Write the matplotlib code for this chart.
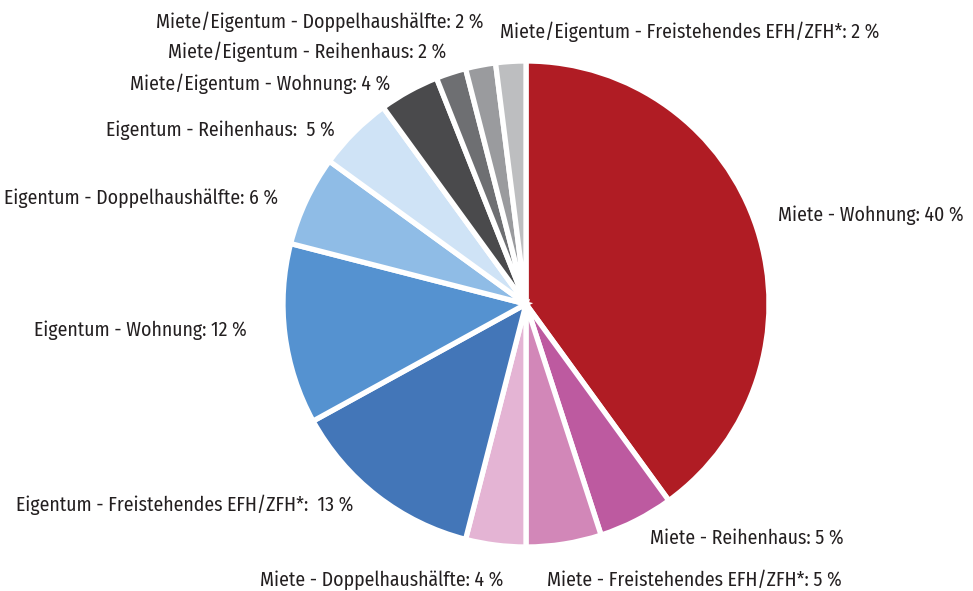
import matplotlib
matplotlib.use("Agg")
import matplotlib.pyplot as plt

# slices, clockwise from 12 o'clock
categories = [
    "Miete - Wohnung",
    "Miete - Reihenhaus",
    "Miete - Freistehendes EFH/ZFH*",
    "Miete - Doppelhaushälfte",
    "Eigentum - Freistehendes EFH/ZFH*: ",
    "Eigentum - Wohnung",
    "Eigentum - Doppelhaushälfte",
    "Eigentum - Reihenhaus: ",
    "Miete/Eigentum - Wohnung",
    "Miete/Eigentum - Reihenhaus",
    "Miete/Eigentum - Doppelhaushälfte",
    "Miete/Eigentum - Freistehendes EFH/ZFH*",
]
shares = [40, 5, 5, 4, 13, 12, 6, 5, 4, 2, 2, 2]
colors = [
    "#b01c24", "#bd5aa0", "#d287b8", "#e4b4d4",
    "#4376b8", "#5592d0", "#8fbce6", "#cfe3f6",
    "#4a4a4c", "#6e6f72", "#9a9b9e", "#bdbec0",
]

# label anchors in pixel coords (x, y from top, alignment)
label_pos = [
    (778, 215, "left"),
    (650, 538, "left"),
    (547, 580, "left"),
    (503, 580, "right"),
    (353, 505, "right"),
    (247, 330, "right"),
    (278, 198, "right"),
    (335, 130, "right"),
    (390, 84, "right"),
    (446, 52, "right"),
    (484, 22, "right"),
    (500, 32, "left"),
]

W, H = 973, 591
fig = plt.figure(figsize=(W / 100, H / 100), dpi=100)
ax = fig.add_axes([0, 0, 1, 1])

ax.pie(shares, colors=colors, startangle=90, counterclock=False,
       center=(526, H - 304), radius=243,
       wedgeprops=dict(edgecolor="white", linewidth=3.8))

ax.set_xlim(0, W)
ax.set_ylim(0, H)
ax.set_aspect("equal")
ax.axis("off")

for cat, val, (x, y, ha) in zip(categories, shares, label_pos):
    if cat.endswith(": "):
        txt = f"{cat} {val} %"
    else:
        txt = f"{cat}: {val} %"
    ax.text(x, H - y, txt, ha=ha, va="center", fontsize=14.2, color="#231f20",
            family=["Fira Sans Condensed", "DejaVu Sans"])

fig.savefig("out.png", dpi=100, facecolor="white")
